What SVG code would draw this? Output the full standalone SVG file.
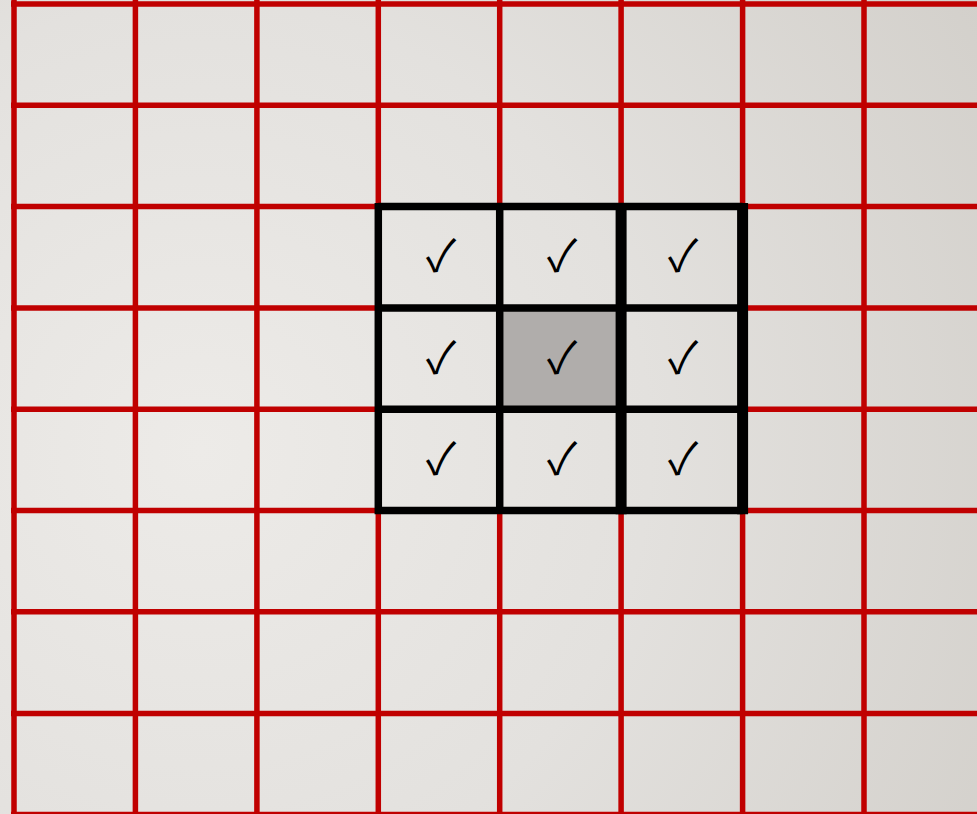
<svg xmlns="http://www.w3.org/2000/svg" width="977" height="814" viewBox="0 0 977 814">
<defs>
<radialGradient id="bg" gradientUnits="userSpaceOnUse" cx="200" cy="450" r="900">
<stop offset="0" stop-color="#edebe8"/>
<stop offset="0.5" stop-color="#e3e1de"/>
<stop offset="1" stop-color="#d3d0cb"/>
</radialGradient>
<style>
.r{stroke:#c00000;stroke-width:5.5;fill:none}
.b{stroke:#000;stroke-width:7.5;fill:none}
.bt{stroke:#000;stroke-width:11;fill:none}
.ck{font-family:"Noto Sans CJK JP","DejaVu Sans",sans-serif;font-size:44px;fill:#000;text-anchor:middle}
</style>
</defs>
<rect width="977" height="814" fill="url(#bg)"/>
<g id="grid">
<path class="r" d="M14,0V814M135.4,0V814M256.9,0V814M378.3,0V814M499.7,0V814M621.1,0V814M742.6,0V814M864,0V814"/>
<path class="r" d="M11,4H977M11,105.3H977M11,206.6H977M11,307.9H977M11,409.2H977M11,510.5H977M11,611.8H977M11,713.4H977M11,814.5H977"/>
</g>
<g id="gray-cell"><rect x="499.7" y="307.9" width="121.4" height="101.3" fill="#b0adab"/></g>
<g id="box">
<path class="b" d="M378.3,206.6H742.6M378.3,307.9H742.6M378.3,409.2H742.6M378.3,510.5H742.6M378.3,202.9V514.2M499.7,206.6V510.5"/>
<path class="bt" d="M621.1,202.9V514.2M742.6,202.9V514.2"/>
</g>
<g id="checks">
<text class="ck" x="441" y="271">✓</text>
<text class="ck" x="562" y="271">✓</text>
<text class="ck" x="683" y="271">✓</text>
<text class="ck" x="441" y="373">✓</text>
<text class="ck" x="562" y="373">✓</text>
<text class="ck" x="683" y="373">✓</text>
<text class="ck" x="441" y="474">✓</text>
<text class="ck" x="562" y="474">✓</text>
<text class="ck" x="683" y="474">✓</text>
</g>
</svg>
